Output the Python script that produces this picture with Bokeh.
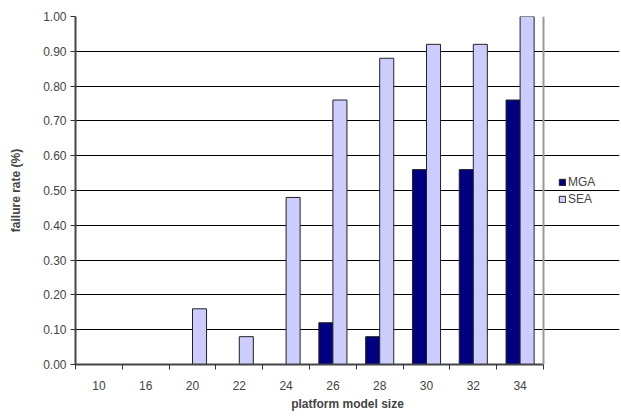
from bokeh.plotting import figure
from bokeh.models import ColumnDataSource, FixedTicker, Legend, LegendItem, Range1d, Span
from bokeh.embed import file_html
from bokeh.resources import INLINE

categories = ["10", "16", "20", "22", "24", "26", "28", "30", "32", "34"]
mga = [0, 0, 0, 0, 0, 0.12, 0.08, 0.56, 0.56, 0.76]
sea = [0, 0, 0.16, 0.08, 0.48, 0.76, 0.88, 0.92, 0.92, 1.00]
y_ticks = [0.0, 0.1, 0.2, 0.3, 0.4, 0.5, 0.6, 0.7, 0.8, 0.9, 1.0]

n = len(categories)
centers = [i + 0.5 for i in range(n)]
src = ColumnDataSource(dict(
    xm=[c - 0.15 for c in centers], xs=[c + 0.15 for c in centers], mga=mga, sea=sea))

FONT = "Liberation Sans"
# frame widened to the right so the legend can sit inside it; category area is 0..n
p = figure(width=621, height=418, output_backend="svg", toolbar_location=None,
           x_range=Range1d(0, n * 544 / 468), y_range=Range1d(0, 1.0),
           min_border_left=75, min_border_right=2, min_border_top=16, min_border_bottom=54)

p.xgrid.visible = False
p.ygrid.ticker = FixedTicker(ticks=y_ticks)
p.ygrid.bounds = (0, n)
p.ygrid.grid_line_color = "#000000"
p.ygrid.grid_line_width = 1
p.outline_line_color = None

p.add_layout(Span(location=n, dimension="height", line_color="#999999", line_width=2))

r1 = p.vbar(x="xm", top="mga", width=0.3, source=src, fill_color="#000080",
            line_color="#222222", line_width=1)
r2 = p.vbar(x="xs", top="sea", width=0.3, source=src, fill_color="#CCCCFF",
            line_color="#222222", line_width=1)

xa = p.xaxis[0]
xa.bounds = (0, n)
xa.ticker = FixedTicker(ticks=centers, minor_ticks=list(range(n + 1)))
xa.major_label_overrides = {c: lab for c, lab in zip(centers, categories)}
xa.major_tick_line_color = None
xa.major_tick_out = 0
xa.major_tick_in = 0
xa.minor_tick_line_color = "#333333"
xa.minor_tick_out = 5
xa.minor_tick_in = 0
xa.axis_line_color = "#444444"
xa.axis_line_width = 2
xa.major_label_text_font = FONT
xa.major_label_text_font_size = "12px"
xa.major_label_standoff = 11
xa.axis_label = "platform model size"
xa.axis_label_text_font = FONT
xa.axis_label_text_font_style = "bold"
xa.axis_label_text_font_size = "12px"
xa.axis_label_standoff = 4

ya = p.yaxis[0]
ya.ticker = FixedTicker(ticks=y_ticks)
ya.major_label_overrides = {t: f"{t:.2f}" for t in y_ticks}
ya.major_tick_out = 5
ya.major_tick_in = 0
ya.minor_tick_line_color = None
ya.major_tick_line_color = "#333333"
ya.axis_line_color = "#444444"
ya.axis_line_width = 2
ya.major_label_text_font = FONT
ya.major_label_text_font_size = "12px"
ya.major_label_standoff = 4
ya.axis_label = "failure rate (%)"
ya.axis_label_text_font = FONT
ya.axis_label_text_font_style = "bold"
ya.axis_label_text_font_size = "12px"
ya.axis_label_standoff = 17

legend = Legend(items=[LegendItem(label="MGA", renderers=[r1]),
                       LegendItem(label="SEA", renderers=[r2])],
                location=(483, 157), padding=0, margin=0, spacing=0,
                border_line_color=None, background_fill_alpha=0,
                glyph_width=8, glyph_height=8, label_standoff=2,
                label_height=17, label_text_font=FONT, label_text_font_size="12px")
p.add_layout(legend)

open("out.html", "w").write(file_html(p, INLINE))
